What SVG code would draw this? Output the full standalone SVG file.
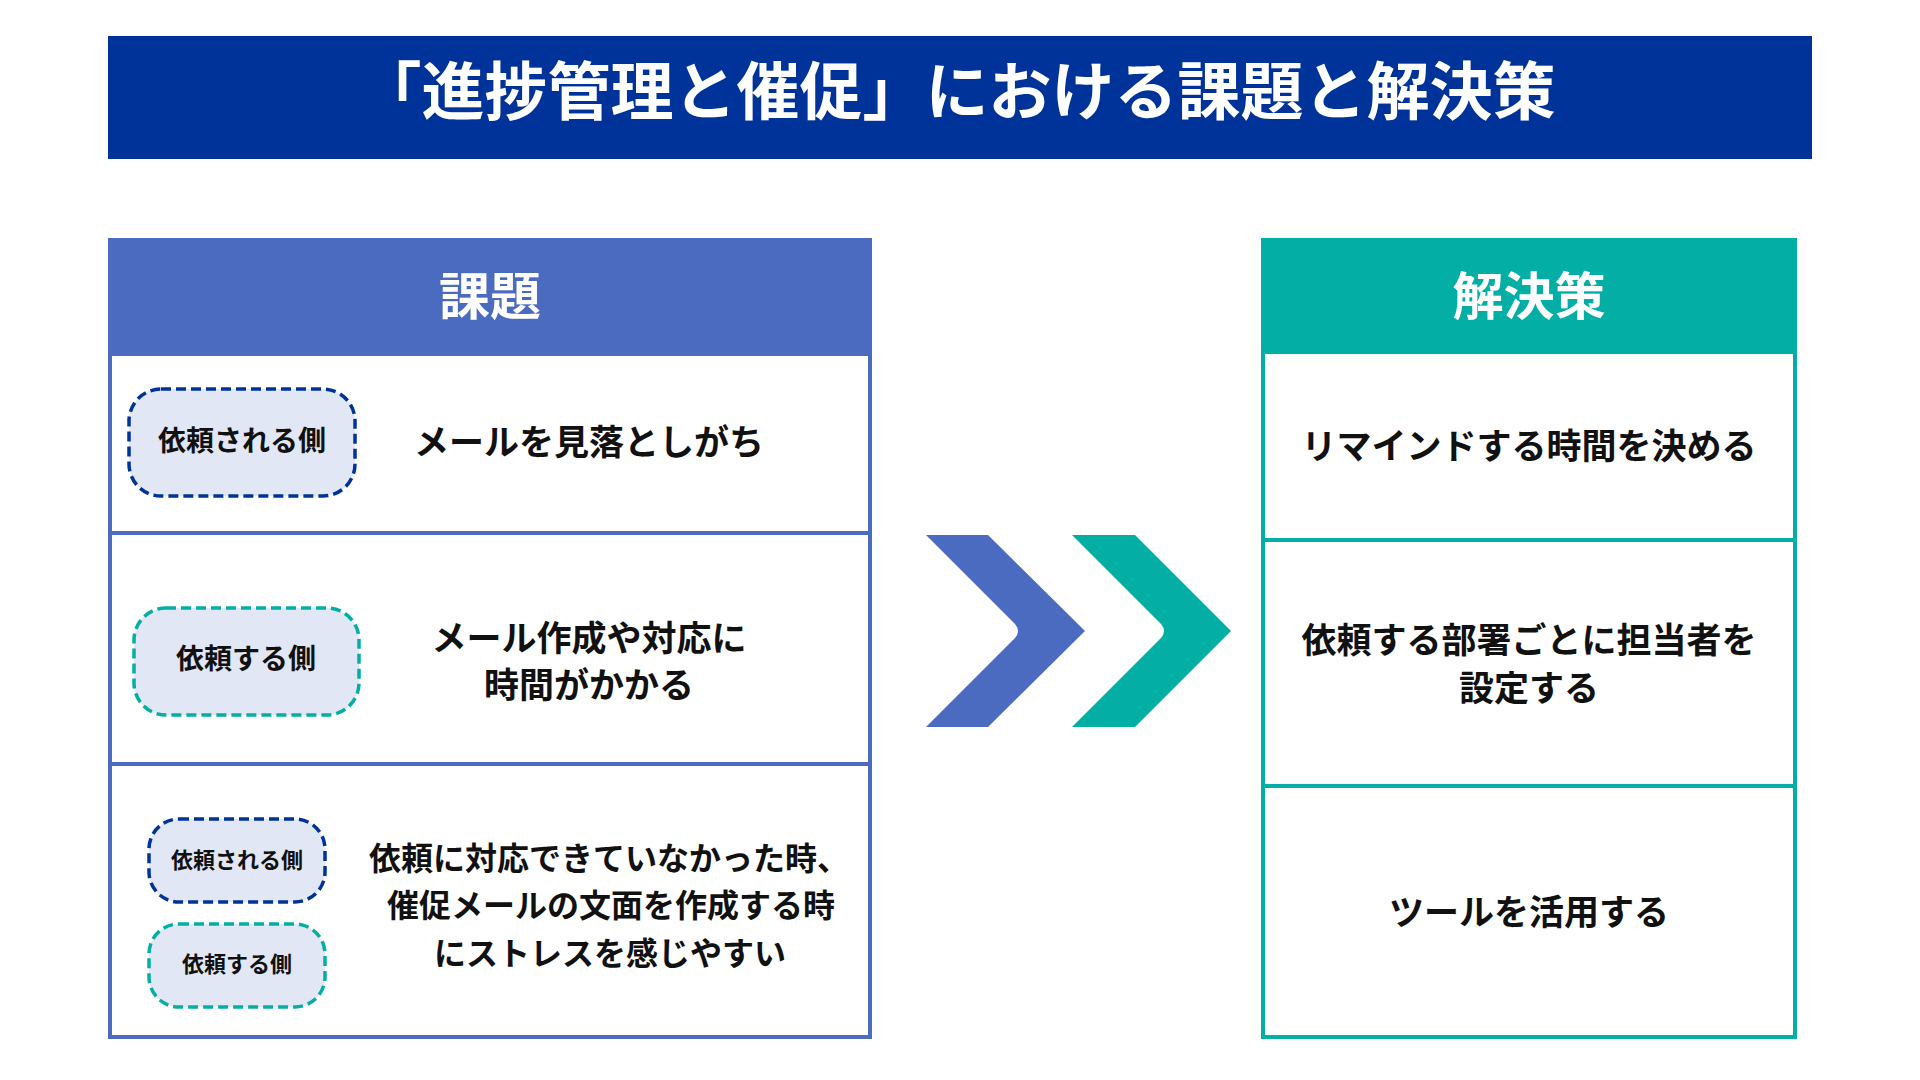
<svg xmlns="http://www.w3.org/2000/svg" width="1920" height="1080" viewBox="0 0 1920 1080">
<style>
text{font-family:"Noto Sans CJK JP","Noto Sans",sans-serif;font-weight:700;text-anchor:middle;dominant-baseline:central}
.title{fill:#fff;font-size:63px}
.head{fill:#fff;font-size:51px}
.body{fill:#111;font-size:35px}
.body3{fill:#111;font-size:32px}
.pill{fill:#111;font-size:28px}
.pills{fill:#111;font-size:22px}
.pn{fill:#E2E7F5;stroke:#003399;stroke-width:3.5;stroke-dasharray:10 5}
.pt{fill:#E2E7F5;stroke:#03AFA5;stroke-width:3.5;stroke-dasharray:10 5}
.lb{stroke:#4A6BBF;stroke-width:4;fill:none}
.lt{stroke:#03AFA5;stroke-width:4;fill:none}
</style>
<rect width="1920" height="1080" fill="#fff"/>
<g id="title">
<rect x="108" y="36" width="1704" height="123" fill="#003399"/>
<text class="title" x="957" y="86">「進捗管理と催促」における課題と解決策</text>
</g>
<g id="issues">
<rect x="108" y="238" width="764" height="118" fill="#4A6BBF"/>
<rect class="lb" x="110" y="240" width="760" height="797"/>
<line class="lb" x1="108" y1="533" x2="872" y2="533"/>
<line class="lb" x1="108" y1="764" x2="872" y2="764"/>
<text class="head" x="490" y="293">課題</text>
<g id="issue1">
<rect class="pn" x="129" y="389" width="226" height="107" rx="32"/>
<text class="pill" x="242" y="439">依頼される側</text>
<text class="body" x="589" y="439">メールを見落としがち</text>
</g>
<g id="issue2">
<rect class="pt" x="134" y="608" width="225" height="107" rx="32"/>
<text class="pill" x="246" y="657">依頼する側</text>
<text class="body" x="589" y="635">メール作成や対応に</text>
<text class="body" x="589" y="682">時間がかかる</text>
</g>
<g id="issue3">
<rect class="pn" x="149" y="819" width="176" height="83" rx="30"/>
<text class="pills" x="237" y="858">依頼される側</text>
<rect class="pt" x="149" y="924" width="176" height="83" rx="30"/>
<text class="pills" x="237" y="962">依頼する側</text>
<text class="body3" x="609" y="856">依頼に対応できていなかった時、</text>
<text class="body3" x="611" y="903">催促メールの文面を作成する時</text>
<text class="body3" x="610" y="951">にストレスを感じやすい</text>
</g>
</g>
<g id="connectors">
<path d="M926,535 L988,535 L1085,631 L988,727 L926,727 L1015,638 Q1021,631 1015,624 Z" fill="#4A6BBF"/>
<path d="M1072,535 L1135,535 L1231,631 L1135,727 L1072,727 L1161,638 Q1167,631 1161,624 Z" fill="#03AFA5"/>
</g>
<g id="solutions">
<rect x="1261" y="238" width="536" height="116" fill="#03AFA5"/>
<rect class="lt" x="1263" y="240" width="532" height="797"/>
<line class="lt" x1="1261" y1="540" x2="1797" y2="540"/>
<line class="lt" x1="1261" y1="786" x2="1797" y2="786"/>
<text class="head" x="1529" y="293">解決策</text>
<g id="sol1"><text class="body" x="1529" y="443">リマインドする時間を決める</text></g>
<g id="sol2">
<text class="body" x="1529" y="637">依頼する部署ごとに担当者を</text>
<text class="body" x="1529" y="685">設定する</text>
</g>
<g id="sol3"><text class="body" x="1529" y="909">ツールを活用する</text></g>
</g>
</svg>
